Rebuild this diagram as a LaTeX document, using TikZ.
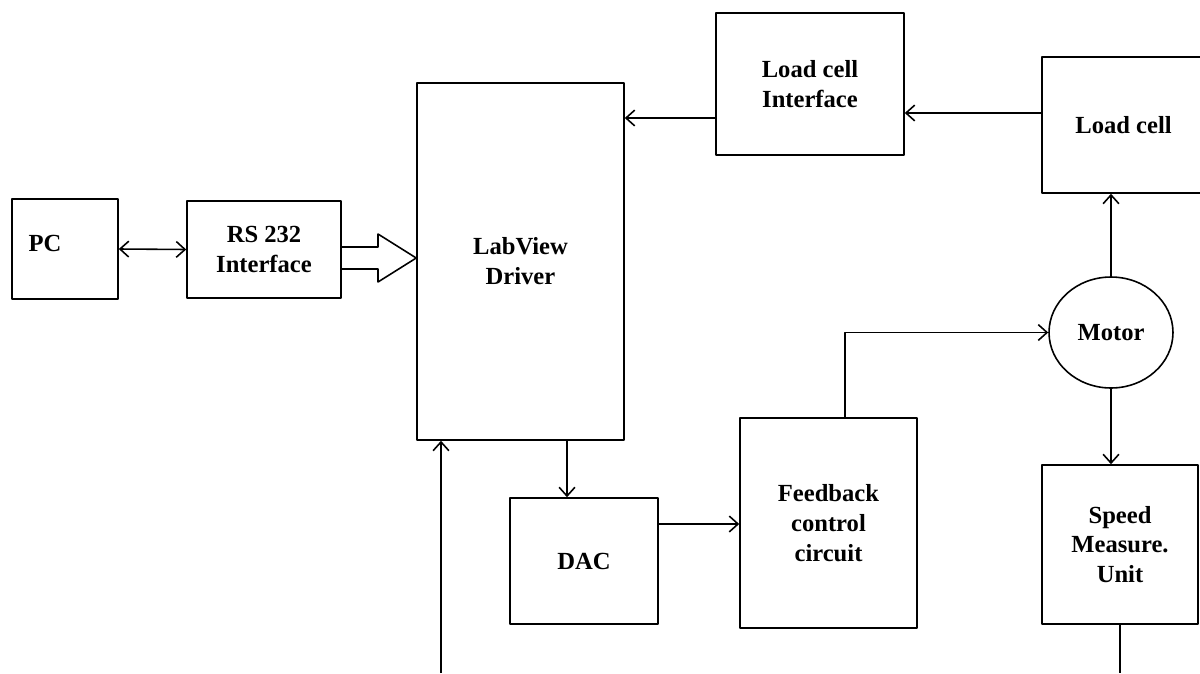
\documentclass[tikz,border=0pt]{standalone}
\usepackage{fontspec}
\setmainfont{Liberation Serif}
\usetikzlibrary{arrows.meta,shapes.geometric}
\begin{document}
\begin{tikzpicture}[x=0.02cm,y=-0.02cm,>={Straight Barb[length=5pt,width=9pt]},line join=round,
  every node/.style={font=\fontsize{14}{17}\selectfont\bfseries,align=center},
  block/.style={draw,line width=0.9pt,inner sep=0pt},
  link/.style={line width=0.9pt}]
  \useasboundingbox (0,0) rectangle (1200,673);

  % blocks
  \node[block,minimum width=2.12cm,minimum height=2.0cm,
    label={[xshift=-0.4cm,yshift=0.12cm]center:PC}] (pc) at (65,249) {};
  \node[block,minimum width=3.08cm,minimum height=1.94cm] (rs) at (264,249.5) {RS 232\\Interface};
  \node[block,minimum width=4.14cm,minimum height=7.14cm] (lab) at (520.5,261.5) {LabView\\Driver};
  \node[block,minimum width=3.76cm,minimum height=2.84cm] (lci) at (810,84) {Load cell\\Interface};
  \node[block,minimum width=3.26cm,minimum height=2.72cm] (lc) at (1123.5,125) {Load cell};
  \node[block,ellipse,minimum width=2.48cm,minimum height=2.22cm] (motor) at (1111,332.5) {Motor};
  \node[block,minimum width=3.12cm,minimum height=3.18cm] (sp) at (1120,544.5) {Speed\\Measure.\\Unit};
  \node[block,minimum width=3.54cm,minimum height=4.2cm] (fb) at (828.5,523) {Feedback\\control\\circuit};
  \node[block,minimum width=2.96cm,minimum height=2.52cm] (dac) at (584,561) {DAC};

  \coordinate (spout) at (1120,673);
  \coordinate (labin) at (441,673);

  % connectors
  \draw[link,<->] (pc.east) -- (rs.west);
  \draw[link] (rs.east |- 0,247) -- (378,247) -- (378,234) -- (lab.west |- 0,258)
    -- (378,282) -- (378,269) -- (rs.east |- 0,269);
  \draw[link,->] (lc.west |- 0,113) -- (lci.east |- 0,113);
  \draw[link,->] (lci.west |- 0,118) -- (lab.east |- 0,118);
  \draw[link,->] (motor.north) -- (motor.north |- lc.south);
  \draw[link,->] (motor.south) -- (motor.south |- sp.north);
  \draw[link] (sp.south) -- (spout);
  \draw[link,->] ([xshift=0.33cm]fb.north) |- (motor.west);
  \draw[link,->] (lab.south -| 567,0) -- (dac.north -| 567,0);
  \draw[link,->] (dac.east |- 0,524) -- (fb.west |- 0,524);
  \draw[link,->] (labin) -- (labin |- lab.south);
\end{tikzpicture}
\end{document}
